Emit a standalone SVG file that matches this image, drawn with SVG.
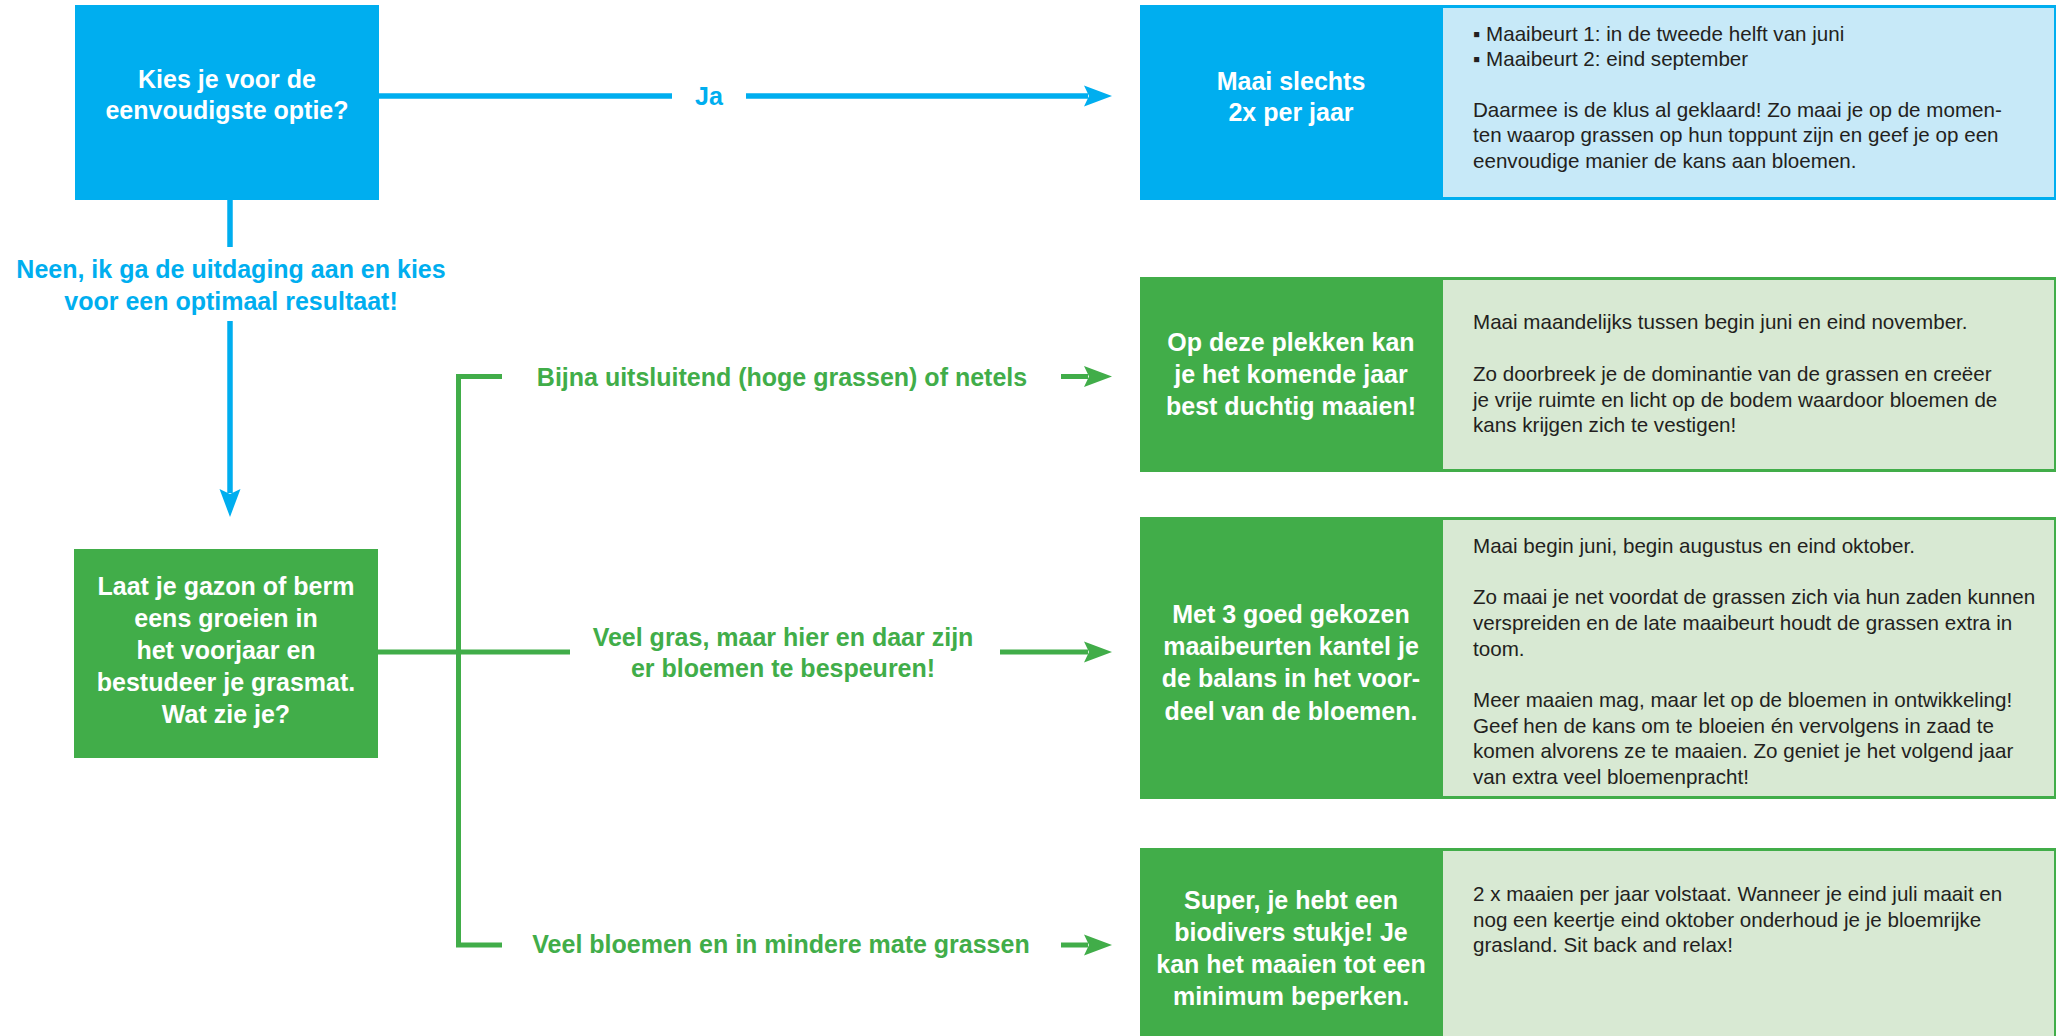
<svg xmlns="http://www.w3.org/2000/svg" width="2056" height="1036" viewBox="0 0 2056 1036">
<style>
.h{font-family:"Liberation Sans",Arial,sans-serif;font-weight:bold;font-size:25px;fill:#ffffff;text-anchor:middle}
.lb{font-family:"Liberation Sans",Arial,sans-serif;font-weight:bold;font-size:25px;fill:#00AEEF;text-anchor:middle}
.lg{font-family:"Liberation Sans",Arial,sans-serif;font-weight:bold;font-size:25px;fill:#41AD49;text-anchor:middle}
.p{font-family:"Liberation Sans",Arial,sans-serif;font-size:20.6px;fill:#231F20}
.bl{fill:#00AEEF}
.gr{fill:#41AD49}
.lbl{fill:#C7E9F8}
.lgr{fill:#D8E9D3}
.cb{stroke:#00AEEF;stroke-width:5.5;fill:none}
.cg{stroke:#41AD49;stroke-width:5;fill:none;stroke-linejoin:miter}
</style>
<defs>
<marker id="ab" markerUnits="userSpaceOnUse" markerWidth="28" markerHeight="21" refX="4" refY="10.5" orient="auto" overflow="visible">
<path d="M0,0 L28,10.5 L0,21 L5,10.5 Z" fill="#00AEEF"/>
</marker>
<marker id="ag" markerUnits="userSpaceOnUse" markerWidth="28" markerHeight="21" refX="4" refY="10.5" orient="auto" overflow="visible">
<path d="M0,0 L28,10.5 L0,21 L5,10.5 Z" fill="#41AD49"/>
</marker>
</defs>

<g id="connectors">
<line class="cb" x1="379" y1="96" x2="672" y2="96"/>
<line class="cb" x1="746" y1="96" x2="1088" y2="96" marker-end="url(#ab)"/>
<text class="lb" x="709" y="105">Ja</text>
<line class="cb" x1="230" y1="200" x2="230" y2="247"/>
<line class="cb" x1="230" y1="321" x2="230" y2="493" marker-end="url(#ab)"/>
<text class="lb" x="231" y="278">Neen, ik ga de uitdaging aan en kies</text>
<text class="lb" x="231" y="310">voor een optimaal resultaat!</text>
<line class="cg" x1="378" y1="652" x2="570" y2="652"/>
<path class="cg" d="M502,376.5 L458.5,376.5 L458.5,945 L502,945"/>
<text class="lg" x="782" y="386">Bijna uitsluitend (hoge grassen) of netels</text>
<line class="cg" x1="1061" y1="376.5" x2="1088" y2="376.5" marker-end="url(#ag)"/>
<text class="lg" x="783" y="646">Veel gras, maar hier en daar zijn</text>
<text class="lg" x="783" y="677">er bloemen te bespeuren!</text>
<line class="cg" x1="1000" y1="652" x2="1088" y2="652" marker-end="url(#ag)"/>
<text class="lg" x="781" y="953">Veel bloemen en in mindere mate grassen</text>
<line class="cg" x1="1061" y1="945" x2="1088" y2="945" marker-end="url(#ag)"/>
</g>

<g id="q1">
<rect class="bl" x="75" y="5" width="304" height="195"/>
<text class="h" x="227" y="88">Kies je voor de</text>
<text class="h" x="227" y="119">eenvoudigste optie?</text>
</g>

<g id="q2">
<rect class="gr" x="74" y="549" width="304" height="209"/>
<text class="h" x="226" y="595">Laat je gazon of berm</text>
<text class="h" x="226" y="627">eens groeien in</text>
<text class="h" x="226" y="659">het voorjaar en</text>
<text class="h" x="226" y="691">bestudeer je grasmat.</text>
<text class="h" x="226" y="723">Wat zie je?</text>
</g>

<g id="r1">
<rect class="bl" x="1140" y="5" width="916" height="195"/>
<rect class="lbl" x="1443" y="8" width="611" height="189"/>
<text class="h" x="1291" y="90">Maai slechts</text>
<text class="h" x="1291" y="121">2x per jaar</text>
<text class="p" x="1473" y="41">▪ Maaibeurt 1: in de tweede helft van juni</text>
<text class="p" x="1473" y="66">▪ Maaibeurt 2: eind september</text>
<text class="p" x="1473" y="117">Daarmee is de klus al geklaard! Zo maai je op de momen-</text>
<text class="p" x="1473" y="142">ten waarop grassen op hun toppunt zijn en geef je op een</text>
<text class="p" x="1473" y="168">eenvoudige manier de kans aan bloemen.</text>
</g>

<g id="r2">
<rect class="gr" x="1140" y="277" width="916" height="195"/>
<rect class="lgr" x="1443" y="280" width="611" height="189"/>
<text class="h" x="1291" y="351">Op deze plekken kan</text>
<text class="h" x="1291" y="383">je het komende jaar</text>
<text class="h" x="1291" y="415">best duchtig maaien!</text>
<text class="p" x="1473" y="329">Maai maandelijks tussen begin juni en eind november.</text>
<text class="p" x="1473" y="381">Zo doorbreek je de dominantie van de grassen en creëer</text>
<text class="p" x="1473" y="407">je vrije ruimte en licht op de bodem waardoor bloemen de</text>
<text class="p" x="1473" y="432">kans krijgen zich te vestigen!</text>
</g>

<g id="r3">
<rect class="gr" x="1140" y="517" width="916" height="282"/>
<rect class="lgr" x="1443" y="520" width="611" height="276"/>
<text class="h" x="1291" y="623">Met 3 goed gekozen</text>
<text class="h" x="1291" y="655">maaibeurten kantel je</text>
<text class="h" x="1291" y="687">de balans in het voor-</text>
<text class="h" x="1291" y="720">deel van de bloemen.</text>
<text class="p" x="1473" y="553">Maai begin juni, begin augustus en eind oktober.</text>
<text class="p" x="1473" y="604">Zo maai je net voordat de grassen zich via hun zaden kunnen</text>
<text class="p" x="1473" y="630">verspreiden en de late maaibeurt houdt de grassen extra in</text>
<text class="p" x="1473" y="656">toom.</text>
<text class="p" x="1473" y="707">Meer maaien mag, maar let op de bloemen in ontwikkeling!</text>
<text class="p" x="1473" y="733">Geef hen de kans om te bloeien én vervolgens in zaad te</text>
<text class="p" x="1473" y="758">komen alvorens ze te maaien. Zo geniet je het volgend jaar</text>
<text class="p" x="1473" y="784">van extra veel bloemenpracht!</text>
</g>

<g id="r4">
<rect class="gr" x="1140" y="848" width="916" height="188"/>
<rect class="lgr" x="1443" y="851" width="611" height="185"/>
<text class="h" x="1291" y="909">Super, je hebt een</text>
<text class="h" x="1291" y="941">biodivers stukje! Je</text>
<text class="h" x="1291" y="973">kan het maaien tot een</text>
<text class="h" x="1291" y="1005">minimum beperken.</text>
<text class="p" x="1473" y="901">2 x maaien per jaar volstaat. Wanneer je eind juli maait en</text>
<text class="p" x="1473" y="927">nog een keertje eind oktober onderhoud je je bloemrijke</text>
<text class="p" x="1473" y="952">grasland. Sit back and relax!</text>
</g>
</svg>
